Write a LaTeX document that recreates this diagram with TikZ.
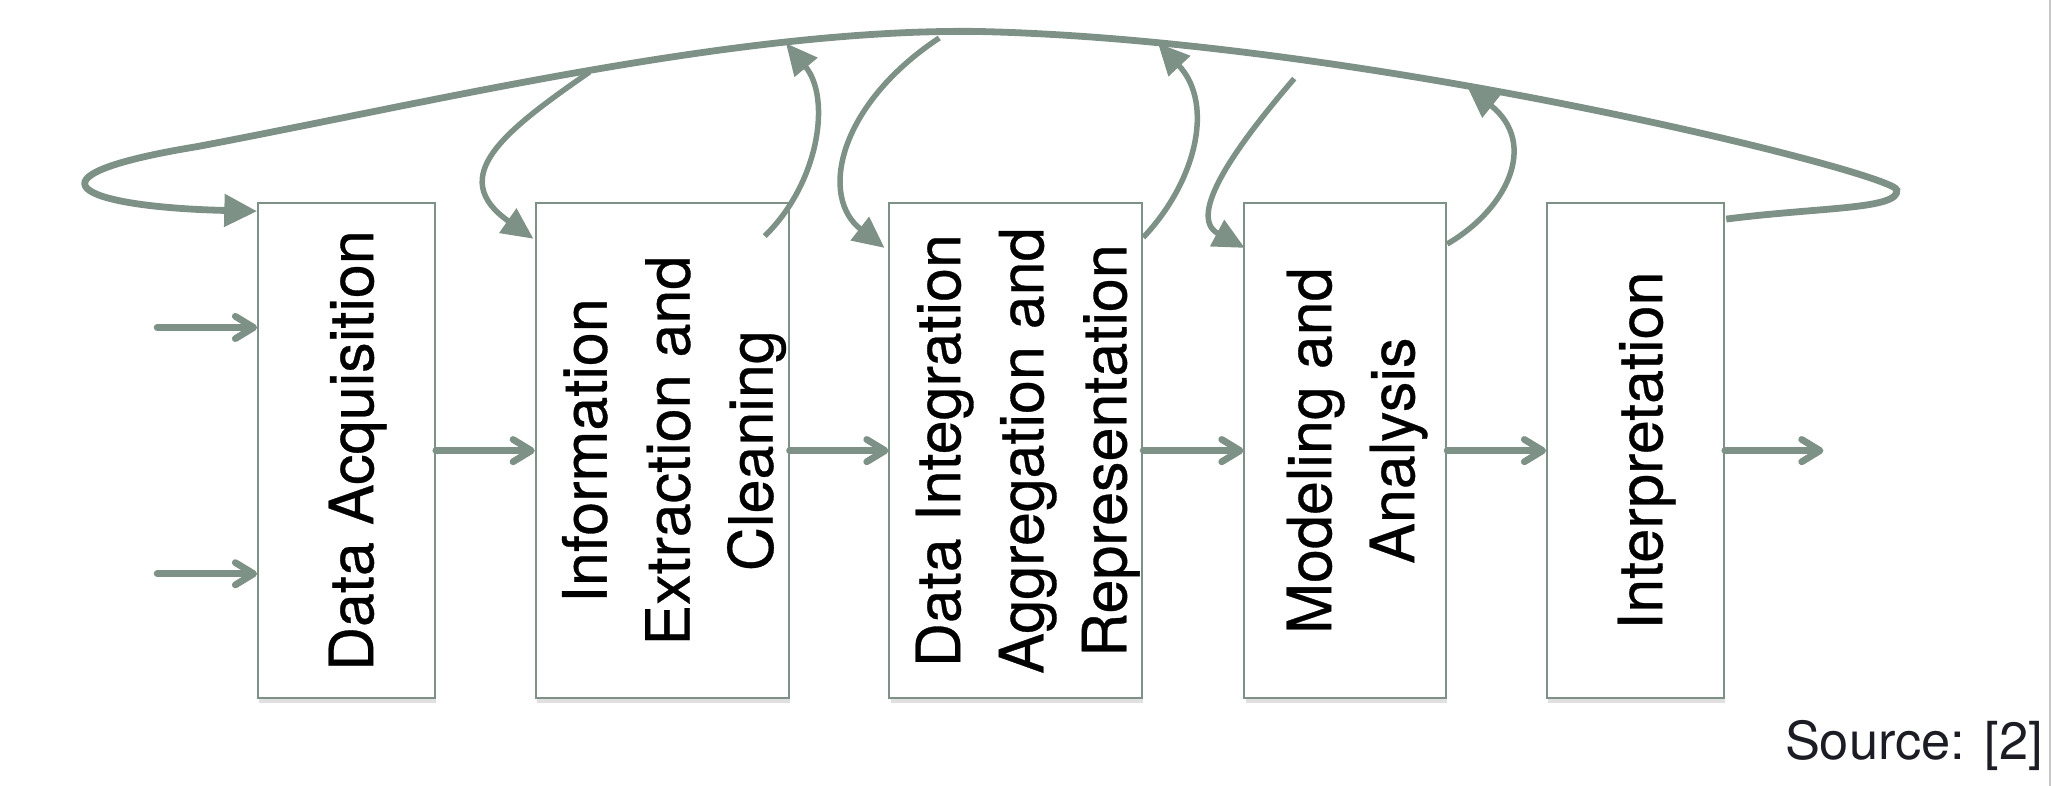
\documentclass[tikz,border=0pt]{standalone}
\usepackage{fontspec}
\setmainfont{TeX Gyre Heros}
\newfontfamily\stagefont{TeX Gyre Heros}[FakeBold=0.5]
\usetikzlibrary{arrows.meta,calc,shadows}
\definecolor{flow}{RGB}{126,145,135}
\definecolor{srcink}{RGB}{28,28,36}
\begin{document}
\begin{tikzpicture}[x=0.5bp,y=-0.5bp,
  stage/.style={draw=flow, line width=0.75bp, fill=white, inner sep=0pt, minimum height=189bp,
    drop shadow={shadow xshift=0.4bp, shadow yshift=-2bp, opacity=0.12, fill=black}},
  stagetext/.style={rotate=90, align=center, text=black, inner sep=0pt,
    font=\stagefont\fontsize{23.3bp}{31.7bp}\selectfont},
  flowarrow/.style={draw=flow, line width=2.6bp, line cap=round,
    -{Straight Barb[round,length=7bp,width=8.5bp]}},
  loopline/.style={draw=flow, line width=2.6bp, -{Triangle[length=12.5bp,width=12bp]}},
  feedback/.style={draw=flow, line width=2.1bp, -{Triangle[length=12bp,width=11bp]}}]
\useasboundingbox (0,0) rectangle (1568,600);
\draw[draw=black!22, line width=0.8bp] (1565,0) -- (1565,600);

% stages
\node[stage, minimum width=67.5bp] (b1) at (264.5,344) {};
\node[stage, minimum width=96.5bp] (b2) at (505.5,344) {};
\node[stage, minimum width=96.5bp] (b3) at (775.5,344) {};
\node[stage, minimum width=77bp]   (b4) at (1027,344) {};
\node[stage, minimum width=67.5bp] (b5) at (1248.5,344) {};

\node[stagetext] (t1) at ($(b1)+(8.5,0)$) {Data Acquisition};
\node[stagetext] (t2) at ($(b2)+(9,0)$) {Information\\Extraction and\\Cleaning};
\node[stagetext] (t3) at ($(b3)+(9,0)$) {Data Integration\\Aggregation and\\Representation};
\node[stagetext] (t4) at ($(b4)+(9,0)$) {Modeling and\\Analysis};
\node[stagetext] (t5) at ($(b5)+(8.5,0)$) {Interpretation};

% main flow
\coordinate (in1) at (120,250);
\coordinate (in2) at (120,438);
\coordinate (out) at (1392,344);
\draw[flowarrow] (in1) -- (in1 -| b1.west);
\draw[flowarrow] (in2) -- (in2 -| b1.west);
\draw[flowarrow] (b1.east) -- (b2.west);
\draw[flowarrow] (b2.east) -- (b3.west);
\draw[flowarrow] (b3.east) -- (b4.west);
\draw[flowarrow] (b4.east) -- (b5.west);
\draw[flowarrow] (b5.east) -- (out);

% big loop
\coordinate (lpR) at (1448,145);
\coordinate (lpTop) at (745,24);
\coordinate (lpQ) at (150,112);
\draw[loopline] ($(b5.north east)+(1,13)$)
  .. controls (1390,158) and (1450,160) .. (lpR)
  .. controls (1446,132) and (1040,30) .. (lpTop)
  .. controls (560,22) and (330,78) .. (lpQ)
  .. controls (10,135) and (60,158) .. ($(b1.north west)+(0,7)$);

% feedback arrows
\coordinate (fa) at (450,55);
\coordinate (fb) at (600,33);
\coordinate (fc) at (717,29);
\coordinate (fd) at (884,33);
\coordinate (fe) at (988,60);
\coordinate (ff) at (1120,66);
\draw[feedback] (fa) .. controls (385,100) and (340,135) .. ($(b2.north west)+(-1,28)$);
\draw[feedback] ($(b2.north east)+(-19,26)$) .. controls (625,140) and (635,75) .. (fb);
\draw[feedback] (fc) .. controls (640,80) and (625,150) .. ($(b3.north west)+(-3,35)$);
\draw[feedback] ($(b3.north east)+(0,27)$) .. controls (912,140) and (928,80) .. (fd);
\draw[feedback] (fe) .. controls (945,110) and (905,165) .. ($(b4.north west)+(1,35)$);
\draw[feedback] ($(b4.north east)+(0,32)$) .. controls (1150,160) and (1175,110) .. (ff);

% source
\node[anchor=base east, inner sep=0pt, text=srcink, font=\fontsize{20bp}{24bp}\selectfont] (src) at (1560,580) {Source: [2]};
\end{tikzpicture}
\end{document}
